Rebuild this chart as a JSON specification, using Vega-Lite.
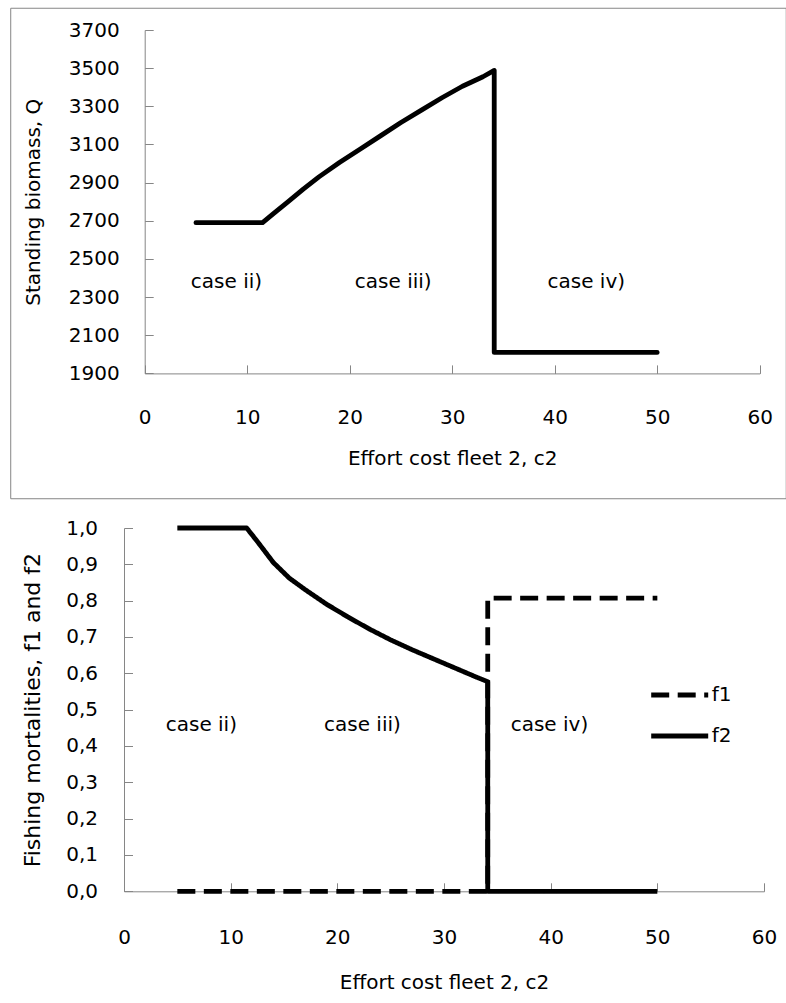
{
  "$schema": "https://vega.github.io/schema/vega-lite/v6.json",
  "padding": {"left": 10, "top": 7, "right": 0, "bottom": 0},
  "spacing": 18,
  "resolve": {"legend": {"strokeDash": "independent"}},
  "config": {
    "font": "DejaVu Sans",
    "view": {"stroke": null},
    "text": {"font": "DejaVu Sans"},
    "axis": {
      "domainColor": "#868686", "domainWidth": 1,
      "tickColor": "#868686", "tickWidth": 1, "tickSize": -8.5,
      "labelColor": "black", "titleColor": "black",
      "labelFont": "DejaVu Sans", "titleFont": "DejaVu Sans",
      "labelFontSize": 20, "titleFontSize": 20, "titleFontWeight": "normal",
      "grid": false, "labelFlush": false, "labelOverlap": false
    }
  },
  "vconcat": [
    {
      "width": 635.7,
      "height": 343.4,
      "layer": [
        {
          "data": {"values": [{}]},
          "mark": {"type": "rect", "filled": false, "fill": null, "stroke": "#868686", "strokeWidth": 1, "clip": false},
          "encoding": {
            "x": {"datum": -13.07, "type": "quantitative", "title": "Effort cost fleet 2, c2",
              "scale": {"domain": [0, 60], "range": [20.7, 635.7], "nice": false, "zero": false},
              "axis": {"values": [0, 10, 20, 30, 40, 50, 60], "format": "d", "labelOverlap": false, "labelPadding": 43, "titlePadding": 21}},
            "x2": {"datum": 62.59},
            "y": {"datum": 3814, "type": "quantitative", "title": "Standing biomass, Q",
              "scale": {"domain": [1900, 3700], "nice": false, "zero": false},
              "axis": {"values": [1900, 2100, 2300, 2500, 2700, 2900, 3100, 3300, 3500, 3700], "format": "d", "labelOverlap": false, "offset": -20.7, "labelPadding": 34, "titlePadding": 24.6}},
            "y2": {"datum": 1243}
          }
        },
        {
          "data": {"values": [
            {"i": 0, "c2": 5, "Q": 2690},
            {"i": 1, "c2": 11.5, "Q": 2690},
            {"i": 2, "c2": 12.5, "Q": 2735},
            {"i": 3, "c2": 14, "Q": 2800},
            {"i": 4, "c2": 15.5, "Q": 2867},
            {"i": 5, "c2": 17, "Q": 2930},
            {"i": 6, "c2": 19, "Q": 3005},
            {"i": 7, "c2": 21, "Q": 3075},
            {"i": 8, "c2": 23, "Q": 3145},
            {"i": 9, "c2": 25, "Q": 3215},
            {"i": 10, "c2": 27, "Q": 3280},
            {"i": 11, "c2": 29, "Q": 3345},
            {"i": 12, "c2": 31, "Q": 3405},
            {"i": 13, "c2": 33, "Q": 3455},
            {"i": 14, "c2": 34.1, "Q": 3488},
            {"i": 15, "c2": 34.1, "Q": 2010},
            {"i": 16, "c2": 50, "Q": 2010}
          ]},
          "mark": {"type": "line", "color": "black", "strokeWidth": 4.8, "strokeJoin": "round", "strokeCap": "round"},
          "encoding": {
            "x": {"field": "c2", "type": "quantitative", "title": "Effort cost fleet 2, c2",
              "scale": {"domain": [0, 60], "range": [20.7, 635.7], "nice": false, "zero": false},
              "axis": {"values": [0, 10, 20, 30, 40, 50, 60], "format": "d", "labelOverlap": false, "labelPadding": 43, "titlePadding": 21}},
            "y": {"field": "Q", "type": "quantitative", "title": "Standing biomass, Q",
              "scale": {"domain": [1900, 3700], "nice": false, "zero": false},
              "axis": {"values": [1900, 2100, 2300, 2500, 2700, 2900, 3100, 3300, 3500, 3700], "format": "d", "labelOverlap": false, "offset": -20.7, "labelPadding": 34, "titlePadding": 24.6}},
            "order": {"field": "i"}
          }
        },
        {
          "data": {"values": [
            {"c2": 4.5, "Q": 2377, "label": "case ii)"},
            {"c2": 20.5, "Q": 2377, "label": "case iii)"},
            {"c2": 39.3, "Q": 2377, "label": "case iv)"}
          ]},
          "mark": {"type": "text", "align": "left", "baseline": "middle", "fontSize": 20, "color": "black", "font": "DejaVu Sans"},
          "encoding": {
            "x": {"field": "c2", "type": "quantitative", "title": "Effort cost fleet 2, c2",
              "scale": {"domain": [0, 60], "range": [20.7, 635.7], "nice": false, "zero": false},
              "axis": {"values": [0, 10, 20, 30, 40, 50, 60], "format": "d", "labelOverlap": false, "labelPadding": 43, "titlePadding": 21}},
            "y": {"field": "Q", "type": "quantitative", "title": "Standing biomass, Q",
              "scale": {"domain": [1900, 3700], "nice": false, "zero": false},
              "axis": {"values": [1900, 2100, 2300, 2500, 2700, 2900, 3100, 3300, 3500, 3700], "format": "d", "labelOverlap": false, "offset": -20.7, "labelPadding": 34, "titlePadding": 24.6}},
            "text": {"field": "label"}
          }
        }
      ]
    },
    {
      "width": 640,
      "height": 363.3,
      "layer": [
        {
          "data": {"values": [
            {"series": "f1", "i": 0, "c2": 5, "f": 0},
            {"series": "f1", "i": 1, "c2": 34.1, "f": 0},
            {"series": "f1", "i": 2, "c2": 34.1, "f": 0.807},
            {"series": "f1", "i": 3, "c2": 50, "f": 0.807},
            {"series": "f2", "i": 0, "c2": 5, "f": 1},
            {"series": "f2", "i": 1, "c2": 11.5, "f": 1},
            {"series": "f2", "i": 2, "c2": 12.5, "f": 0.963},
            {"series": "f2", "i": 3, "c2": 14, "f": 0.905},
            {"series": "f2", "i": 4, "c2": 15.5, "f": 0.862},
            {"series": "f2", "i": 5, "c2": 17, "f": 0.83},
            {"series": "f2", "i": 6, "c2": 19, "f": 0.79},
            {"series": "f2", "i": 7, "c2": 21, "f": 0.755},
            {"series": "f2", "i": 8, "c2": 23, "f": 0.722},
            {"series": "f2", "i": 9, "c2": 25, "f": 0.692},
            {"series": "f2", "i": 10, "c2": 27, "f": 0.665},
            {"series": "f2", "i": 11, "c2": 29, "f": 0.64},
            {"series": "f2", "i": 12, "c2": 31, "f": 0.615},
            {"series": "f2", "i": 13, "c2": 33, "f": 0.59},
            {"series": "f2", "i": 14, "c2": 34.1, "f": 0.577},
            {"series": "f2", "i": 15, "c2": 34.1, "f": 0},
            {"series": "f2", "i": 16, "c2": 50, "f": 0}
          ]},
          "mark": {"type": "line", "color": "black", "strokeWidth": 4.8, "strokeJoin": "round"},
          "encoding": {
            "x": {"field": "c2", "type": "quantitative", "title": "Effort cost fleet 2, c2",
              "scale": {"domain": [0, 60], "nice": false, "zero": false},
              "axis": {"values": [0, 10, 20, 30, 40, 50, 60], "format": "d", "labelOverlap": false, "labelPadding": 44.9, "titlePadding": 24.6}},
            "y": {"field": "f", "type": "quantitative", "title": "Fishing mortalities, f1 and f2",
              "scale": {"domain": [0, 1], "nice": false, "zero": false},
              "axis": {"values": [0, 0.1, 0.2, 0.3, 0.4, 0.5, 0.6, 0.7, 0.8, 0.9, 1], "labelExpr": "replace(format(datum.value, '.1f'), '.', ',')", "labelOverlap": false, "labelPadding": 35, "titlePadding": 21, "titleFontSize": 22}},
            "strokeDash": {"field": "series", "type": "nominal",
              "scale": {"domain": ["f1", "f2"], "range": [[18, 8.5], [1, 0]]},
              "legend": {"title": null, "orient": "none", "legendX": 524.7, "legendY": 136, "padding": 0,
                "symbolType": "stroke", "symbolSize": 3249, "symbolStrokeWidth": 4.8, "symbolStrokeColor": "black",
                "labelFont": "DejaVu Sans", "labelFontSize": 20, "labelColor": "black", "labelOffset": 1, "rowPadding": -13}},
            "order": {"field": "i"}
          }
        },
        {
          "data": {"values": [
            {"c2": 3.91, "f": 0.459, "label": "case ii)"},
            {"c2": 18.75, "f": 0.459, "label": "case iii)"},
            {"c2": 36.25, "f": 0.459, "label": "case iv)"}
          ]},
          "mark": {"type": "text", "align": "left", "baseline": "middle", "fontSize": 20, "color": "black", "font": "DejaVu Sans"},
          "encoding": {
            "x": {"field": "c2", "type": "quantitative", "title": "Effort cost fleet 2, c2",
              "scale": {"domain": [0, 60], "nice": false, "zero": false},
              "axis": {"values": [0, 10, 20, 30, 40, 50, 60], "format": "d", "labelOverlap": false, "labelPadding": 44.9, "titlePadding": 24.6}},
            "y": {"field": "f", "type": "quantitative", "title": "Fishing mortalities, f1 and f2",
              "scale": {"domain": [0, 1], "nice": false, "zero": false},
              "axis": {"values": [0, 0.1, 0.2, 0.3, 0.4, 0.5, 0.6, 0.7, 0.8, 0.9, 1], "labelExpr": "replace(format(datum.value, '.1f'), '.', ',')", "labelOverlap": false, "labelPadding": 35, "titlePadding": 21, "titleFontSize": 22}},
            "text": {"field": "label"}
          }
        }
      ]
    }
  ]
}
